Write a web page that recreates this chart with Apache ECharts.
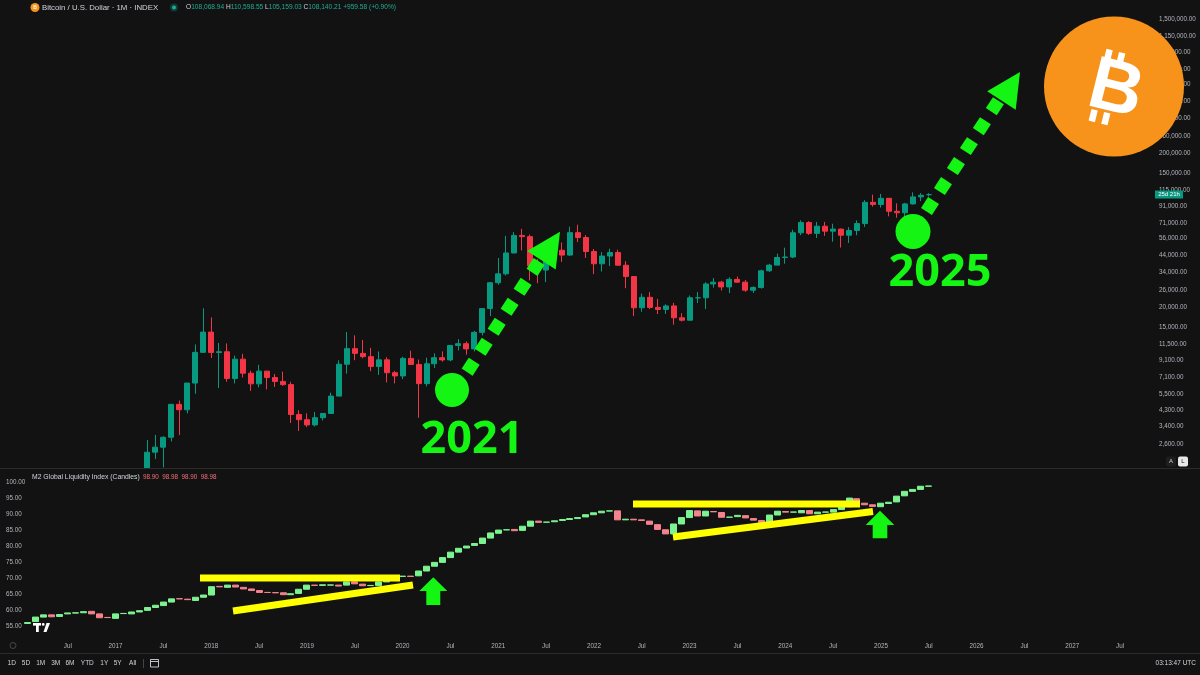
<!DOCTYPE html>
<html><head><meta charset="utf-8">
<script src="https://cdn.jsdelivr.net/npm/echarts@6/dist/echarts.min.js"></script>
<style>html,body{margin:0;padding:0;background:#121212;}#c{width:1200px;height:675px;}</style>
</head><body><div id="c"></div>
<script>
// ---------- DATA ----------
const btcStart = '2017-05';
const btcOpen  = [1348,2300,2480,2875,4703,4339,6468,10233,
  13850,10220,10330,6925,9245,7495,6390,7730,7030,6625,6320,4040,
  3740,3460,3850,4105,5320,8570,10820,10080,9600,8290,9150,7550,
  7195,9350,8545,6410,8630,9450,9140,11350,11655,10780,13800,19700,
  28990,33110,45240,58800,57750,37330,35040,41490,47100,43820,61310,57000,
  46220,38480,43190,45540,37650,31790,19930,23300,20050,19430,20490,17170,
  16550,23130,23150,28470,29250,27220,30480,29230,25940,26970,34650,37720,
  42280,42580,61180,71300,60640,67500,62700,64620,58980,63330,70220,96410,
  93430,102430,84350,82550,94210,104640,108069];
const btcHigh  = [2763,2980,2916,4736,4979,6470,11517,19783,
  17250,11790,11700,9760,10020,7780,8490,7760,7410,7680,6590,4310,
  4110,4200,4140,5600,9090,13880,13200,12330,10950,10370,9510,7750,
  9580,10500,9190,9460,10080,10380,11440,12470,12060,14100,19860,29300,
  41950,58350,61790,64900,59590,41330,42590,50480,52920,67000,69000,59100,
  47990,45820,48190,47440,40020,31960,24650,25200,22780,20990,21480,18390,
  23950,25250,29200,31050,29830,31430,31820,30230,27490,35200,38430,44730,
  48970,63970,73800,72800,71950,71990,70000,65100,66500,73620,99590,108270,
  109360,102500,95000,95760,111900,110600,110599];
const btcLow   = [1348,2076,1830,2700,2972,4110,5507,10694,
  9400,6000,6600,6430,7030,5755,6070,5880,6100,6200,3560,3160,
  3350,3380,3690,4070,5320,7450,9100,9360,7730,7300,6530,6430,
  6860,8460,3850,6150,8100,8900,8970,10530,9880,10370,13200,17600,
  28130,32300,44960,47000,30000,28800,29280,37330,39600,43290,53250,42000,
  32950,34320,37200,37580,26700,17600,18780,19540,18150,18190,15480,16260,
  16500,21400,19550,26940,25810,24800,28860,25300,24900,26550,34100,37600,
  38520,41880,59020,59200,56550,58400,53500,49050,52550,58900,66800,90500,
  89200,78200,76600,74450,93380,98200,105159];
const btcClose = [2300,2480,2875,4703,4339,6468,10233,13850,
  10220,10330,6925,9245,7495,6390,7730,7030,6625,6320,4040,3740,
  3460,3850,4105,5320,8570,10820,10080,9600,8290,9150,7550,7195,
  9350,8545,6410,8630,9450,9140,11350,11655,10780,13800,19700,28990,
  33110,45240,58800,57750,37330,35040,41490,47100,43820,61310,57000,46220,
  38480,43190,45540,37650,31790,19930,23300,20050,19430,20490,17170,16550,
  23130,23150,28470,29250,27220,30480,29230,25940,26970,34650,37720,42280,
  42580,61180,71300,60640,67500,62700,64620,58980,63330,70220,96410,93430,
  102430,84350,82550,94210,104640,107180,108140];

const m2Start = '2016-02';
const m2Open  = [56.0,56.6,58.0,58.7,58.2,59.0,59.25,59.35,59.8,59.0,57.9,
  57.6,59.1,59.0,59.6,60.1,61.0,61.6,62.7,63.75,63.6,63.2,64.2,
  64.9,67.6,67.3,68.0,67.3,66.8,66.3,65.72,65.65,65.6,65.0,65.4,
  66.7,68.0,67.9,68.0,68.0,68.0,69.0,68.3,67.85,67.9,69.0,69.8,
  70.7,70.8,70.9,72.4,73.9,75.1,76.6,78.3,79.6,80.4,81.0,82.7,
  84.2,85.25,85.4,85.1,86.4,88.0,87.65,87.8,88.2,88.5,88.8,89.3,
  90.0,90.6,91.15,91.2,88.4,88.6,88.4,88.0,86.9,85.3,84.0,87.1,
  89.1,91.2,89.6,91.0,90.7,89.2,89.4,89.7,88.8,88.2,87.5,89.9,
  91.0,90.8,90.6,91.3,90.3,90.8,90.8,91.6,92.5,95.0,93.6,93.1,
  92.5,93.5,94.0,95.9,97.3,97.9,98.90];
const m2Close = [56.3,58.0,58.7,58.1,58.8,59.3,59.35,59.7,59.0,57.8,57.85,
  59.0,59.15,59.6,60.0,61.0,61.7,62.7,63.7,63.7,63.45,64.2,64.9,
  67.5,67.45,68.0,67.4,66.8,66.3,65.7,65.68,65.6,65.0,65.3,66.7,
  68.0,67.9,68.1,68.05,67.7,69.0,68.4,67.8,67.9,69.0,69.8,70.7,
  70.8,70.7,72.4,73.9,75.1,76.6,78.3,79.5,80.2,81.0,82.7,84.3,
  85.2,85.3,85.0,86.4,88.0,87.6,87.7,88.1,88.5,88.8,89.1,90.0,
  90.6,91.1,91.2,88.4,88.6,88.4,88.2,87.0,85.4,84.0,87.1,89.1,
  91.3,89.6,91.1,90.9,89.2,89.25,89.8,89.0,88.3,87.5,89.9,91.1,
  90.8,90.85,91.3,90.3,90.8,90.85,91.6,92.4,95.2,93.6,93.1,92.6,
  93.6,93.9,95.8,97.3,97.9,98.9,98.98];

const priceTicks = [2600,3400,4300,5500,7100,9100,11500,15000,20000,26000,34000,44000,56000,
  71000,91000,115000,150000,200000,260000,340000,440000,560000,710000,910000,1150000,1500000];
const m2Ticks = [55,60,65,70,75,80,85,90,95,100];
const rangeButtons = ['1D','5D','1M','3M','6M','YTD','1Y','5Y','All'];

// ---------- BUILD ----------
const months = [];
for (let i = 0; i < 143; i++) {
  const y = 2015 + Math.floor((10 + i) / 12);
  const m = (10 + i) % 12 + 1;
  months.push(y + '-' + String(m).padStart(2, '0'));
}
const lg = Math.log10;
const PRICE_MIN = 1816, PRICE_MAX = 1986800;
const pLo = lg(PRICE_MIN);
const cl = v => Math.max(lg(v), pLo);   // pane clips at its bottom edge
const bi = months.indexOf(btcStart);
const btcData = btcOpen.map((o, k) => [months[bi + k], cl(o), cl(btcClose[k]), cl(btcLow[k]), cl(btcHigh[k])]);
const mi = months.indexOf(m2Start);
const m2Data = m2Open.map((o, k) => {
  const c = m2Close[k];
  return [months[mi + k], o, c, Math.min(o, c), Math.max(o, c)];
});

const FONT = 'Liberation Sans';
const AX = '#b2b5be';
const UP = '#089981', DN = '#f23645';
const M2UP = '#7cf391', M2DN = '#f5838d';
const LIME = '#14f514';
const YEL = '#ffff00';

function fmtPrice(v) {
  const n = Math.round(Math.pow(10, v));
  return n.toLocaleString('en-US', {minimumFractionDigits: 2, maximumFractionDigits: 2});
}

// annotation helpers (pixel space drawings)
function squares(c0, dir, step, n, size) {
  const out = [];
  const ux = dir[0] * size / 2, uy = dir[1] * size / 2;
  const vx = -dir[1] * size / 2, vy = dir[0] * size / 2;
  for (let k = 0; k < n; k++) {
    const cx = c0[0] + dir[0] * step * k, cy = c0[1] + dir[1] * step * k;
    out.push({type: 'polygon', z: 100, shape: {points: [
      [cx + ux + vx, cy + uy + vy], [cx + ux - vx, cy + uy - vy],
      [cx - ux - vx, cy - uy - vy], [cx - ux + vx, cy - uy + vy]]},
      style: {fill: LIME}});
  }
  return out;
}
function head(tip, dir, len, half) {
  const mx = tip[0] - dir[0] * len, my = tip[1] - dir[1] * len;
  const px = -dir[1], py = dir[0];
  return {type: 'polygon', z: 100, shape: {points: [tip, [mx + px * half, my + py * half], [mx - px * half, my - py * half]]}, style: {fill: LIME}};
}
function upArrow(tipX, tipY, headW, headH, shaftW, totalH) {
  return {type: 'polygon', z: 100, shape: {points: [
    [tipX, tipY], [tipX + headW / 2, tipY + headH], [tipX + shaftW / 2, tipY + headH],
    [tipX + shaftW / 2, tipY + totalH], [tipX - shaftW / 2, tipY + totalH],
    [tipX - shaftW / 2, tipY + headH], [tipX - headW / 2, tipY + headH]]}, style: {fill: LIME}};
}
function bar(x1, y1, x2, y2) {
  return {type: 'line', z: 100, shape: {x1, y1, x2, y2}, style: {stroke: YEL, lineWidth: 7, lineCap: 'butt'}};
}
function txt(x, y, text, size, fill, align) {
  return {type: 'text', z: 100, x, y, style: {text, fontSize: size, fill, fontFamily: FONT, align: align || 'left', verticalAlign: 'middle'}};
}

const dir = [0.545, -0.8386];
const graphics = [];
// separators
graphics.push({type: 'line', z: 5, shape: {x1: 0, y1: 468.5, x2: 1200, y2: 468.5}, style: {stroke: '#2b2b2b', lineWidth: 1}});
graphics.push({type: 'line', z: 5, shape: {x1: 0, y1: 653.5, x2: 1200, y2: 653.5}, style: {stroke: '#2b2b2b', lineWidth: 1}});
// header
graphics.push({type: 'circle', z: 100, shape: {cx: 35, cy: 7.5, r: 4.5}, style: {fill: '#f7931a'}});
graphics.push({type: 'text', z: 100, x: 35, y: 7.7, style: {text: 'B', fontSize: 5, fontWeight: 'bold', fill: '#fff', fontFamily: FONT, align: 'center', verticalAlign: 'middle'}});
graphics.push(txt(42, 7.5, 'Bitcoin / U.S. Dollar · 1M · INDEX', 7.8, '#d1d4dc'));
graphics.push({type: 'circle', z: 100, shape: {cx: 174, cy: 7.5, r: 4}, style: {fill: '#0c3d35'}});
graphics.push({type: 'circle', z: 100, shape: {cx: 174, cy: 7.5, r: 2}, style: {fill: '#22ab94'}});
graphics.push({type: 'text', z: 100, x: 186, y: 7.5, style: {
  text: '{l|O}{v|108,068.94} {l|H}{v|110,598.55} {l|L}{v|105,159.03} {l|C}{v|108,140.21} {v|+959.58 (+0.90%)}',
  fontFamily: FONT, fontSize: 6.6, verticalAlign: 'middle',
  rich: {l: {fill: '#d1d4dc', fontSize: 6.6, fontFamily: FONT}, v: {fill: '#22ab94', fontSize: 6.6, fontFamily: FONT}}}});
// M2 header
graphics.push(txt(32, 477, 'M2 Global Liquidity Index (Candles)', 6.8, '#d1d4dc'));
graphics.push(txt(143, 477, '98.90  98.98  98.90  98.98', 6.3, '#f7727a'));
// TV logo
graphics.push({type: 'rect', z: 100, shape: {x: 33, y: 623, width: 8, height: 2.6}, style: {fill: '#fff'}});
graphics.push({type: 'rect', z: 100, shape: {x: 36, y: 623, width: 2.8, height: 9}, style: {fill: '#fff'}});
graphics.push({type: 'circle', z: 100, shape: {cx: 43.2, cy: 624.4, r: 1.4}, style: {fill: '#fff'}});
graphics.push({type: 'polygon', z: 100, shape: {points: [[46.5, 623], [50, 623], [46.5, 632], [43.5, 632]]}, style: {fill: '#fff'}});
// bottom toolbar
const btnX = [11.7, 26, 40.7, 55.7, 70, 87.3, 104.3, 117.7, 132.7];
rangeButtons.forEach((b, k) => graphics.push(txt(btnX[k], 663.5, b, 6.5, '#d1d4dc', 'center')));
graphics.push({type: 'line', z: 100, shape: {x1: 143.5, y1: 659, x2: 143.5, y2: 668}, style: {stroke: '#444', lineWidth: 1}});
graphics.push({type: 'rect', z: 100, shape: {x: 150.5, y: 659.5, width: 8, height: 7.5}, style: {fill: 'none', stroke: '#d1d4dc', lineWidth: 0.9}});
graphics.push({type: 'line', z: 100, shape: {x1: 150.5, y1: 661.5, x2: 158.5, y2: 661.5}, style: {stroke: '#d1d4dc', lineWidth: 0.9}});
graphics.push(txt(1196, 663.5, '03:13:47 UTC', 6.5, '#d1d4dc', 'right'));
graphics.push({type: 'circle', z: 100, shape: {cx: 13, cy: 645.5, r: 3}, style: {fill: 'none', stroke: '#555', lineWidth: 0.8}});
// right axis widgets
graphics.push({type: 'rect', z: 100, shape: {x: 1155, y: 190.5, width: 28, height: 8}, style: {fill: '#089981'}});
graphics.push(txt(1169, 194.7, '25d 21h', 6, '#fff', 'center'));
graphics.push({type: 'rect', z: 100, shape: {x: 1166, y: 456.5, width: 10, height: 10, r: 2}, style: {fill: '#1e1e1e'}});
graphics.push(txt(1171, 461.7, 'A', 6, '#d1d4dc', 'center'));
graphics.push({type: 'rect', z: 100, shape: {x: 1178, y: 456.5, width: 10, height: 10, r: 2}, style: {fill: '#e8e8e8'}});
graphics.push(txt(1183, 461.7, 'L', 6, '#111', 'center'));
// yellow trend lines
graphics.push(bar(200, 578, 400, 578));
graphics.push(bar(233, 611, 413, 585));
graphics.push(bar(633, 504, 860, 504));
graphics.push(bar(673, 537, 873, 511.5));
// green up arrows
graphics.push(upArrow(433.3, 577.3, 28, 13.7, 14, 27.7));
graphics.push(upArrow(880, 510.7, 28.6, 14.3, 14.6, 27.6));
// circles + dotted arrows
graphics.push({type: 'circle', z: 100, shape: {cx: 452, cy: 390, r: 17}, style: {fill: LIME}});
graphics.push({type: 'circle', z: 100, shape: {cx: 913, cy: 231.5, r: 17.5}, style: {fill: LIME}});
squares([470.7, 366.7], dir, 23.8, 6, 13).forEach(g => graphics.push(g));
graphics.push(head([560, 231.7], dir, 34, 17));
squares([930, 206], dir, 23.8, 6, 13).forEach(g => graphics.push(g));
graphics.push(head([1020, 72], dir, 34, 17));
// year labels
graphics.push({type: 'text', z: 100, x: 472, y: 440, style: {text: '2021', fontSize: 45, fontWeight: 'bold', fontFamily: 'Open Sans', fill: LIME, align: 'center', verticalAlign: 'middle'}});
graphics.push({type: 'text', z: 100, x: 940, y: 273, style: {text: '2025', fontSize: 45, fontWeight: 'bold', fontFamily: 'Open Sans', fill: LIME, align: 'center', verticalAlign: 'middle'}});
// bitcoin logo
graphics.push({type: 'circle', z: 110, shape: {cx: 1114, cy: 86.5, r: 70}, style: {fill: '#f7931a'}});
graphics.push({type: 'group', z: 111, x: 1115, y: 89, rotation: -0.244, children: [
  {type: 'text', z: 111, x: 1, y: 2, style: {text: 'B', fontSize: 74, fontWeight: 'bold', fontFamily: FONT, fill: '#fff', align: 'center', verticalAlign: 'middle'}},
  {type: 'rect', z: 111, shape: {x: -18, y: -37, width: 6.5, height: 12}, style: {fill: '#fff'}},
  {type: 'rect', z: 111, shape: {x: -5, y: -37, width: 6.5, height: 12}, style: {fill: '#fff'}},
  {type: 'rect', z: 111, shape: {x: -18, y: 25, width: 6.5, height: 12}, style: {fill: '#fff'}},
  {type: 'rect', z: 111, shape: {x: -5, y: 25, width: 6.5, height: 12}, style: {fill: '#fff'}}
]});

const option = {
  backgroundColor: '#121212',
  animation: false,
  textStyle: {fontFamily: FONT},
  grid: [
    {left: 0, right: 60, top: 0, height: 468},
    {left: 0, right: 60, top: 468, bottom: 35}
  ],
  xAxis: [
    {type: 'category', gridIndex: 0, data: months, boundaryGap: true, show: false},
    {type: 'category', gridIndex: 1, data: months, boundaryGap: true,
      axisLine: {show: false}, axisTick: {show: false}, splitLine: {show: false},
      axisLabel: {color: AX, fontSize: 6.3, margin: 3, fontFamily: FONT,
        interval: (i, v) => v > '2016-06' && (v.endsWith('-01') || v.endsWith('-07')),
        formatter: v => v.endsWith('-01') ? v.slice(0, 4) : 'Jul'}}
  ],
  yAxis: [
    {type: 'value', gridIndex: 0, position: 'right', min: pLo, max: lg(PRICE_MAX),
      axisLine: {show: false}, axisTick: {show: false}, splitLine: {show: false},
      axisLabel: {customValues: priceTicks.map(lg), formatter: fmtPrice, color: AX, fontSize: 6.3, margin: 19, fontFamily: FONT}},
    {type: 'value', gridIndex: 1, position: 'left', min: 50.84, max: 104.6,
      axisLine: {show: false}, axisTick: {show: false}, splitLine: {show: false},
      axisLabel: {inside: true, customValues: m2Ticks, formatter: v => v.toFixed(2), color: AX, fontSize: 6.3, margin: 6, fontFamily: FONT}}
  ],
  series: [
    {type: 'candlestick', xAxisIndex: 0, yAxisIndex: 0, clip: true, barWidth: 5.5,
      data: btcData, encode: {x: 0, y: [1, 2, 3, 4]},
      itemStyle: {color: UP, color0: DN, borderColor: UP, borderColor0: DN, borderWidth: 1}},
    {type: 'candlestick', xAxisIndex: 1, yAxisIndex: 1, clip: true, barWidth: 6.5,
      data: m2Data, encode: {x: 0, y: [1, 2, 3, 4]},
      itemStyle: {color: M2UP, color0: M2DN, borderColor: M2UP, borderColor0: M2DN, borderWidth: 1}}
  ],
  graphic: graphics
};
const chart = echarts.init(document.getElementById('c'), null, {renderer: 'canvas'});
chart.setOption(option);
</script></body></html>
